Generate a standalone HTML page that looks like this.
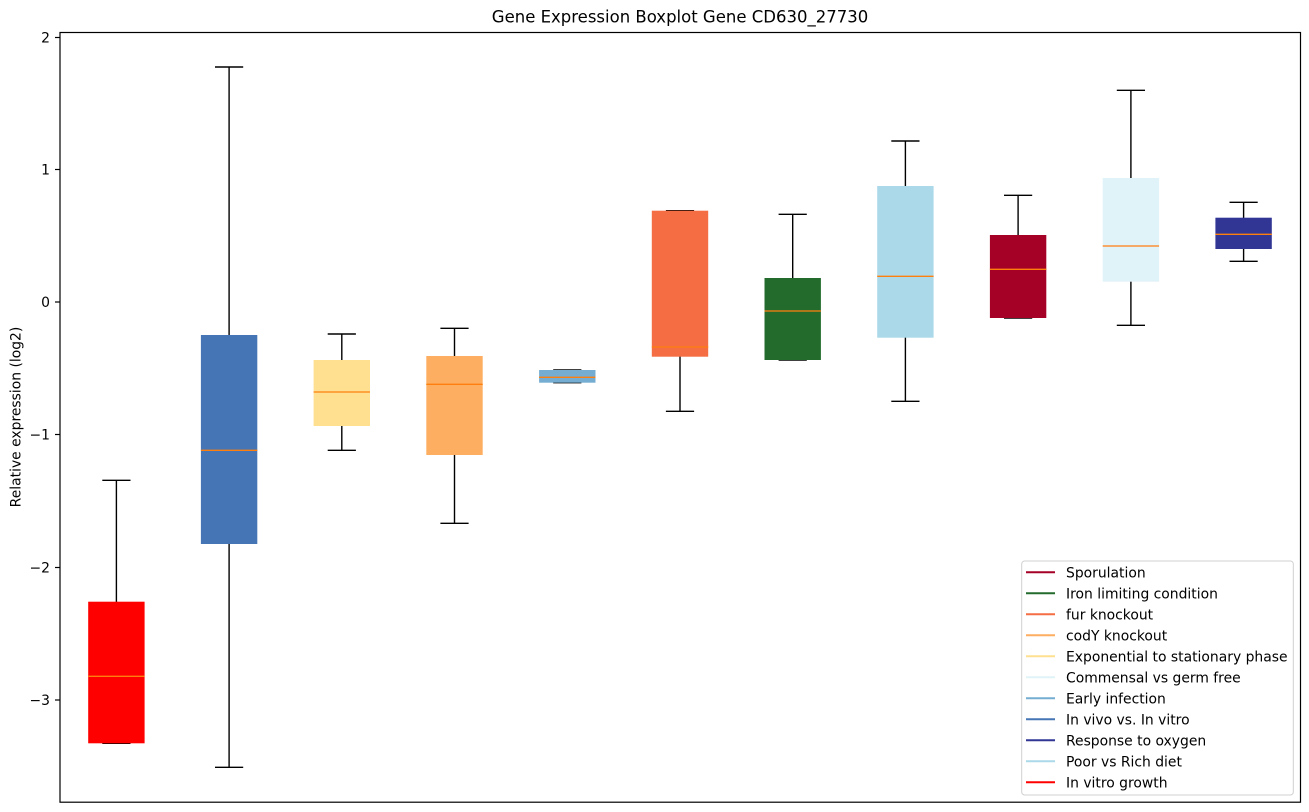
<!DOCTYPE html>
<html><head><meta charset="utf-8"><style>
html,body{margin:0;padding:0;background:#fff;}
svg{display:block;font-family:"DejaVu Sans","Liberation Sans",sans-serif;}
</style></head><body>
<svg width="1309" height="812" viewBox="0 0 1309 812" xmlns="http://www.w3.org/2000/svg">
<rect width="1309" height="812" fill="#fff"/>
<text x="680" y="22.5" font-size="16.5" text-anchor="middle" fill="#000">Gene Expression Boxplot Gene CD630_27730</text>
<text transform="translate(20.5,417) rotate(-90)" font-size="13.9" text-anchor="middle" fill="#000">Relative expression (log2)</text>
<g stroke="#000" stroke-width="1.2">
<line x1="55" y1="37.5" x2="60" y2="37.5"/>
<line x1="55" y1="169.5" x2="60" y2="169.5"/>
<line x1="55" y1="302" x2="60" y2="302"/>
<line x1="55" y1="434.5" x2="60" y2="434.5"/>
<line x1="55" y1="567.5" x2="60" y2="567.5"/>
<line x1="55" y1="700" x2="60" y2="700"/>
</g>
<g font-size="13.9" text-anchor="end" fill="#000">
<text x="50" y="42.5">2</text>
<text x="50" y="174.5">1</text>
<text x="50" y="307">0</text>
<text x="50" y="439.5">−1</text>
<text x="50" y="572.5">−2</text>
<text x="50" y="705">−3</text>
</g>
<g stroke="#000" stroke-width="1.4" fill="none">
<line x1="116.4" y1="480.3" x2="116.4" y2="743.3"/><line x1="102.3" y1="480.3" x2="130.5" y2="480.3"/><line x1="102.3" y1="743.3" x2="130.5" y2="743.3"/>
<line x1="229.1" y1="67" x2="229.1" y2="767.3"/><line x1="215" y1="67" x2="243.2" y2="67"/><line x1="215" y1="767.3" x2="243.2" y2="767.3"/>
<line x1="341.8" y1="334" x2="341.8" y2="450.3"/><line x1="327.7" y1="334" x2="355.9" y2="334"/><line x1="327.7" y1="450.3" x2="355.9" y2="450.3"/>
<line x1="454.5" y1="328.3" x2="454.5" y2="523.3"/><line x1="440.4" y1="328.3" x2="468.6" y2="328.3"/><line x1="440.4" y1="523.3" x2="468.6" y2="523.3"/>
<line x1="553.2" y1="370" x2="581.4" y2="370"/><line x1="553.2" y1="382.7" x2="581.4" y2="382.7"/>
<line x1="680" y1="210.7" x2="680" y2="411.3"/><line x1="665.9" y1="210.7" x2="694.1" y2="210.7"/><line x1="665.9" y1="411.3" x2="694.1" y2="411.3"/>
<line x1="792.7" y1="214.3" x2="792.7" y2="360"/><line x1="778.6" y1="214.3" x2="806.8" y2="214.3"/><line x1="778.6" y1="360" x2="806.8" y2="360"/>
<line x1="905.4" y1="141" x2="905.4" y2="401.3"/><line x1="891.3" y1="141" x2="919.5" y2="141"/><line x1="891.3" y1="401.3" x2="919.5" y2="401.3"/>
<line x1="1018.1" y1="195.3" x2="1018.1" y2="318"/><line x1="1004" y1="195.3" x2="1032.2" y2="195.3"/><line x1="1004" y1="318" x2="1032.2" y2="318"/>
<line x1="1130.9" y1="90.3" x2="1130.9" y2="325.3"/><line x1="1116.8" y1="90.3" x2="1145" y2="90.3"/><line x1="1116.8" y1="325.3" x2="1145" y2="325.3"/>
<line x1="1243.6" y1="202.3" x2="1243.6" y2="261.3"/><line x1="1229.5" y1="202.3" x2="1257.7" y2="202.3"/><line x1="1229.5" y1="261.3" x2="1257.7" y2="261.3"/>
</g>
<g>
<rect x="88.2" y="601.7" width="56.4" height="141.6" fill="#ff0000"/>
<rect x="200.9" y="335" width="56.4" height="209" fill="#4575b4"/>
<rect x="313.6" y="360" width="56.4" height="66" fill="#fee090"/>
<rect x="426.3" y="356" width="56.4" height="99" fill="#fdae61"/>
<rect x="539.1" y="370" width="56.4" height="12.7" fill="#74add1"/>
<rect x="651.8" y="210.7" width="56.4" height="146" fill="#f46d43"/>
<rect x="764.5" y="278" width="56.4" height="82" fill="#236b2d"/>
<rect x="877.2" y="186" width="56.4" height="151.7" fill="#abd9e9"/>
<rect x="989.9" y="235" width="56.4" height="83" fill="#a50026"/>
<rect x="1102.7" y="178" width="56.4" height="103.7" fill="#e0f3f8"/>
<rect x="1215.4" y="217.7" width="56.4" height="31.3" fill="#313695"/>
</g>
<g stroke="#ff7f0e" stroke-width="1.3">
<line x1="88.2" y1="676.3" x2="144.6" y2="676.3"/>
<line x1="200.9" y1="450.3" x2="257.3" y2="450.3"/>
<line x1="313.6" y1="392" x2="370" y2="392"/>
<line x1="426.3" y1="384.3" x2="482.7" y2="384.3"/>
<line x1="539.1" y1="377.3" x2="595.5" y2="377.3"/>
<line x1="651.8" y1="347" x2="708.2" y2="347"/>
<line x1="764.5" y1="311" x2="820.9" y2="311"/>
<line x1="877.2" y1="276.3" x2="933.6" y2="276.3"/>
<line x1="989.9" y1="269.3" x2="1046.3" y2="269.3"/>
<line x1="1102.7" y1="246" x2="1159.1" y2="246"/>
<line x1="1215.4" y1="234.3" x2="1271.8" y2="234.3"/>
</g>
<rect x="60" y="32.5" width="1240.5" height="769.7" fill="none" stroke="#000" stroke-width="1.2"/>
<rect x="1021.7" y="561" width="271.6" height="234" rx="3" ry="3" fill="#fff" fill-opacity="0.8" stroke="#d0d0d0" stroke-width="1"/>
<g stroke-width="2">
<line x1="1026" y1="572.2" x2="1055" y2="572.2" stroke="#a50026"/>
<line x1="1026" y1="593.2" x2="1055" y2="593.2" stroke="#236b2d"/>
<line x1="1026" y1="614.2" x2="1055" y2="614.2" stroke="#f46d43"/>
<line x1="1026" y1="635.2" x2="1055" y2="635.2" stroke="#fdae61"/>
<line x1="1026" y1="656.2" x2="1055" y2="656.2" stroke="#fee090"/>
<line x1="1026" y1="677.2" x2="1055" y2="677.2" stroke="#e0f3f8"/>
<line x1="1026" y1="698.2" x2="1055" y2="698.2" stroke="#74add1"/>
<line x1="1026" y1="719.2" x2="1055" y2="719.2" stroke="#4575b4"/>
<line x1="1026" y1="740.2" x2="1055" y2="740.2" stroke="#313695"/>
<line x1="1026" y1="761.2" x2="1055" y2="761.2" stroke="#abd9e9"/>
<line x1="1026" y1="782.2" x2="1055" y2="782.2" stroke="#ff0000"/>
</g>
<g font-size="13.9" fill="#000">
<text x="1066" y="577.5">Sporulation</text>
<text x="1066" y="598.5">Iron limiting condition</text>
<text x="1066" y="619.5">fur knockout</text>
<text x="1066" y="640.5">codY knockout</text>
<text x="1066" y="661.5">Exponential to stationary phase</text>
<text x="1066" y="682.5">Commensal vs germ free</text>
<text x="1066" y="703.5">Early infection</text>
<text x="1066" y="724.5">In vivo vs. In vitro</text>
<text x="1066" y="745.5">Response to oxygen</text>
<text x="1066" y="766.5">Poor vs Rich diet</text>
<text x="1066" y="787.5">In vitro growth</text>
</g>
</svg>
</body></html>
